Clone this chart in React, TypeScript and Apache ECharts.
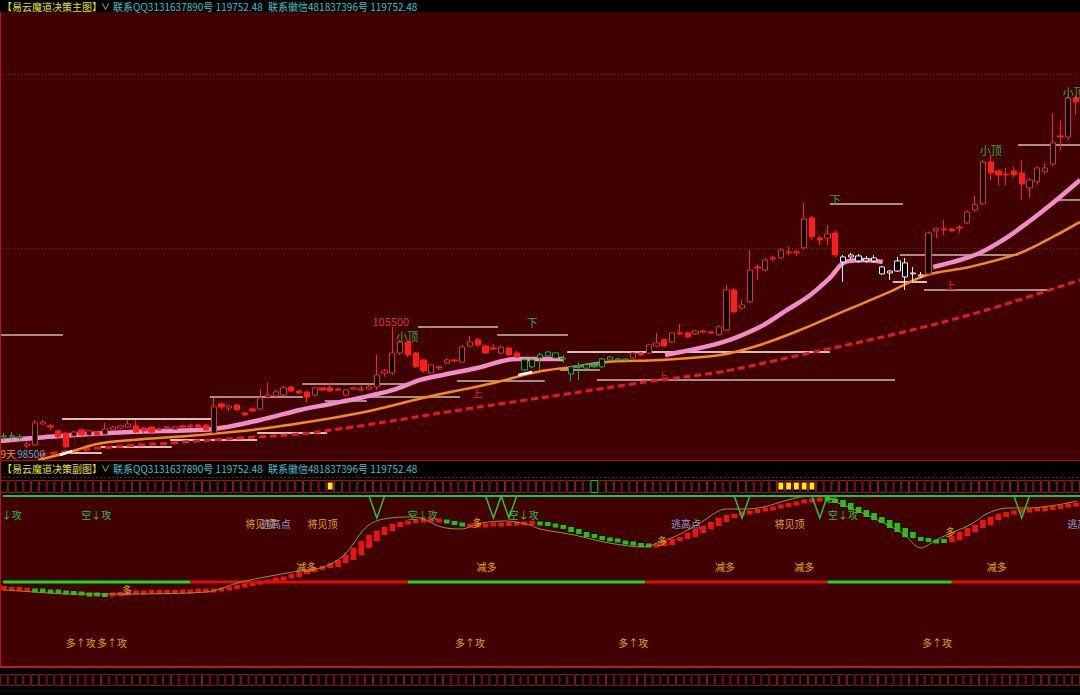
import React, { useEffect, useRef } from "react";
import * as echarts from "echarts";

// ---------------- MAIN PANEL DATA ----------------
// [open, close, low, high]
const candles: number[][] = [
  [99490, 99540, 99280, 99690], [99540, 99490, 99280, 99740], [99430, 99490, 99230, 99640], [99020, 99120, 98920, 99230],
  [99070, 100210, 99020, 100370], [100160, 100260, 100110, 100370], [100060, 100000, 99850, 100160], [99800, 99490, 99430, 99850],
  [99690, 98970, 98920, 99740], [99540, 99740, 99490, 99800], [99850, 99590, 99540, 99900], [99590, 99800, 99540, 99850],
  [99740, 99590, 99540, 99800], [99640, 99900, 99590, 100210], [99850, 100000, 99800, 100060], [99950, 100060, 99900, 100110],
  [100000, 100160, 99950, 100370], [100060, 99740, 99690, 100370], [99950, 99800, 99690, 100000], [100000, 99740, 99690, 100060],
  [99900, 99850, 99800, 99950], [99950, 100000, 99850, 100060], [99880, 100000, 99850, 100060], [100060, 100000, 99950, 100110],
  [100060, 100000, 99950, 100160], [100110, 100000, 99950, 100160], [100110, 99850, 99800, 100160], [99690, 101040, 99640, 101510],
  [101200, 101040, 100890, 101250], [100990, 101090, 100830, 101140], [101140, 100890, 100830, 101200], [100730, 100630, 100570, 100780],
  [100940, 100830, 100780, 100990], [100940, 101510, 100890, 101970], [101560, 101660, 101510, 102290], [101610, 101820, 101560, 101920],
  [101660, 102030, 101610, 102130], [102080, 101870, 101820, 102130], [101870, 101770, 101720, 101920], [101820, 101560, 101250, 101870],
  [101660, 102030, 101610, 102080], [102030, 101920, 101870, 102080], [102030, 101870, 101820, 102290], [101970, 101920, 101870, 102030],
  [101660, 101920, 101610, 101970], [101970, 102030, 101920, 102080], [101970, 101950, 101870, 102130], [101970, 102080, 101920, 102180],
  [102080, 102700, 101920, 103740], [102800, 102910, 102600, 103010], [102800, 103840, 102700, 105190], [103840, 104410, 103740, 104520],
  [104410, 103740, 103630, 104520], [103840, 103120, 103060, 103890], [103480, 102910, 102800, 103530], [102800, 103220, 102750, 103270],
  [103120, 103060, 102960, 103170], [103320, 103480, 103270, 103580], [103480, 103430, 103370, 103530], [103370, 104150, 103320, 104260],
  [104200, 104410, 104150, 104720], [104520, 104260, 104150, 104620], [104200, 103840, 103790, 104260], [104100, 104050, 104000, 104310],
  [103840, 104150, 103790, 104200], [104100, 103740, 103690, 104150], [103840, 103630, 103580, 103940], [103480, 102960, 102910, 103580],
  [103120, 103480, 103060, 103580], [103740, 103580, 102960, 103840], [103690, 103890, 103580, 103940], [103840, 103580, 103530, 103890],
  [103580, 103530, 103320, 103740], [102750, 103120, 102390, 103170], [103170, 103120, 102440, 103370], [103220, 103060, 103010, 103320],
  [103170, 103120, 103060, 103270], [103120, 103530, 103060, 103580], [103630, 103480, 103430, 103690], [103530, 103480, 103430, 103580],
  [103530, 103480, 103430, 103580], [103580, 103840, 103530, 103890], [103840, 103740, 103690, 103890], [103840, 104260, 103790, 104310],
  [104200, 104360, 104150, 104880], [104520, 104200, 104150, 104570], [104410, 104880, 104360, 104930], [104880, 104830, 104780, 105340],
  [104880, 104670, 104620, 104930], [104830, 104980, 104780, 105030], [104980, 104930, 104880, 105030], [104930, 104880, 104830, 104980],
  [104780, 105190, 104720, 105240], [105030, 107110, 104980, 107370], [107110, 105970, 105920, 107210], [106170, 106330, 106070, 106590],
  [106490, 108140, 106430, 109180], [108300, 108250, 107630, 108400], [108140, 108660, 108040, 108770], [108770, 108720, 108610, 108870],
  [108770, 109180, 108720, 109290], [109080, 109030, 108920, 109340], [109080, 109030, 108870, 109180], [109290, 110790, 109180, 111620],
  [110840, 109860, 109700, 110940], [109800, 109700, 109440, 109910], [109800, 110010, 109440, 110480], [110060, 108920, 108820, 110170],
  [108820, 108560, 107520, 108920], [108920, 108820, 108660, 109030], [108870, 108610, 108510, 108970], [108720, 108610, 108510, 108870],
  [108770, 108610, 108510, 108920], [108300, 107940, 107890, 108350], [108090, 107990, 107630, 108140], [108090, 108610, 108040, 108820],
  [108510, 107780, 107110, 108770], [107990, 107940, 107470, 108300], [107890, 107830, 107730, 108040], [107940, 110060, 107890, 110120],
  [110170, 110270, 109800, 110320], [110270, 110220, 109960, 110740], [110270, 110170, 110120, 110320], [110370, 110320, 110060, 110480],
  [110580, 111150, 110530, 111260], [111260, 111520, 111150, 111980], [111570, 113740, 111520, 113850], [113740, 113170, 112810, 114110],
  [113280, 113070, 112550, 113330], [113120, 113070, 112550, 113430], [113280, 113070, 112970, 113490], [113170, 112600, 111770, 113850],
  [112400, 112810, 111880, 112920], [112710, 113430, 112550, 113490], [113230, 113430, 113120, 113690], [113640, 114730, 113540, 116290],
  [115090, 115040, 114370, 115920], [115040, 117060, 114890, 117220], [117060, 116860, 116180, 117170],
];
const N = candles.length;
const categories = candles.map((_, i) => String(i));

// index ranges where candles are tinted (g = green, w = white)
const tintZones: [number, number, string][] = [[0, 2, "g"], [67, 80, "g"], [108, 118, "w"]];

// moving-average style lines: [index, price]
const pinkSegA = [[-0.5, 99278], [7.2, 99537], [16.2, 99744], [26.9, 99900], [33.0, 100367], [38.1, 100886], [42.0, 101196], [45.8, 101508], [50.1, 101922], [53.6, 102441], [56.5, 102700], [60.9, 103063], [66.0, 103529], [72.0, 103529]];
const pinkSegB = [[85.1, 103737], [92.2, 104359], [97.3, 105189], [100.8, 106070], [103.8, 106848], [106.3, 107730], [108.3, 108559], [110.8, 108663], [113.1, 108559]];
const pinkSegC = [[119.6, 108300], [122.2, 108559], [125.6, 109026], [128.6, 109700], [131.7, 110582], [135.0, 111618], [138.5, 112811]];
const orangeLine = [[4.4, 98293], [8.5, 98708], [12.0, 99122], [16.6, 99330], [25.2, 99589], [33.9, 99952], [45.8, 100730], [54.5, 101559], [63.0, 102285], [68.6, 102855], [73.2, 103115], [77.6, 103374], [84.4, 103478], [92.2, 103737], [97.3, 104256], [102.5, 105034], [108.5, 106070], [113.7, 106951], [118.8, 107885], [124.3, 108300], [130.8, 109026], [135.0, 109856], [138.5, 110633]];
const orangeWhiteA = [[7.2, 98552], [8.8, 98760]];
const orangeWhiteB = [[66.2, 102700], [68.0, 102855]];
const orangeTeal = [[73.3, 103115], [76.7, 103270]];
const redDashLine = [[4.6, 98552], [12.4, 98915], [21.4, 99174], [30.4, 99433], [38.1, 99641], [45.8, 100056], [58.7, 100886], [71.6, 101663], [84.4, 102441], [92.2, 102855], [102.5, 103737], [115.3, 104879], [126.5, 106070], [138.5, 107626]];

// horizontal levels: [fromIndex, toIndex, price, kind(0 gray / 1 light)]
const levelLines = [
  [-0.5, 7.6, 104775, 0], [7.5, 26.8, 100420, 1], [8.5, 12.6, 98656, 1], [12.4, 21.6, 98967, 1],
  [21.4, 32.6, 99330, 1], [32.6, 41.6, 99693, 1], [26.5, 38.5, 101559, 0], [38.4, 52.3, 102234, 0],
  [41.3, 46.7, 101352, 0], [45.8, 58.7, 101559, 0], [53.3, 63.6, 105189, 0], [63.5, 72.6, 104775, 0],
  [58.3, 69.6, 102389, 0], [72.5, 106.3, 103893, 1], [71.6, 76.7, 102960, 0], [76.3, 114.7, 102441, 0],
  [106.3, 115.7, 111567, 0], [115.3, 130.5, 108922, 0], [118.4, 134.6, 107107, 0], [114.4, 118.8, 107522, 1],
  [130.5, 138.5, 114626, 0], [135.5, 138.5, 111774, 0],
];

// main annotations: [text, index, price, color, fontSize]
const mainLabels: [string, number, number, string, number][] = [
  ["105500", 49.8, 105500, "#c83a3a", 11],
  ["小顶", 51.9, 104723, "#3caa28", 11],
  ["下", 68.0, 105448, "#3caa28", 11],
  ["下", 107.0, 111826, "#3caa28", 11],
  ["小顶", 127.0, 114369, "#3caa28", 11],
  ["小顶", 137.7, 117374, "#3caa28", 11],
  ["上", 60.9, 101767, "#d82020", 11],
  ["上", 84.8, 102648, "#d82020", 11],
  ["上", 121.8, 107367, "#d82020", 11],
  ["9天", 0.55, 98640, "#d8a000", 10],
  ["98500", 3.5, 98640, "#3ab0d0", 10],
];

// ---------------- SUB PANEL DATA ----------------
const subX = [
  79, 77, 77, 77, 76, 76, 75, 75, 74, 73,
  73, 72, 72, 72, 73, 74, 74, 75, 75, 75,
  75, 75, 75, 76, 76, 76, 77, 77, 78, 80,
  82, 83, 84, 86, 87, 89, 90, 93, 95, 98,
  99, 100, 104, 107, 112, 119, 126, 132, 136, 140,
  143, 145, 146, 147, 147, 147, 146, 144, 142, 141,
  141, 142, 142, 143, 143, 143, 144, 144, 144, 143,
  142, 140, 138, 135, 133, 130, 129, 128, 126, 125,
  123, 122, 121, 121, 122, 126, 128, 130, 134, 138,
  141, 145, 149, 152, 153, 155, 156, 157, 159, 160,
  162, 164, 165, 167, 168, 168, 167, 164, 160, 157,
  154, 150, 147, 144, 139, 135, 130, 129, 126, 125,
  125, 127, 131, 135, 139, 142, 147, 150, 153, 155,
  156, 157, 157, 158, 159, 160, 161, 163, 164,
];
// colour runs of the sub bars: [from, to, r/g]
const subColorRuns: [number, number, string][] = [[0, 3, "r"], [4, 13, "g"], [14, 56, "r"], [57, 59, "g"], [60, 68, "r"], [69, 83, "g"], [84, 105, "r"], [106, 121, "g"], [122, 138, "r"]];
const oliveLine = [[-0.1, 77], [3.9, 75], [8.4, 73], [14.2, 73], [26.1, 75], [30.5, 85], [37.2, 95], [41.2, 100], [43.8, 112], [46.5, 139], [48.3, 147], [51.8, 150], [53.6, 149], [56.3, 140], [58.8, 138], [61.5, 144], [64.6, 146], [67.7, 142], [69.0, 138], [73.4, 132], [77.9, 124], [82.3, 120], [84.1, 124], [86.8, 132], [89.8, 145], [92.9, 158], [95.6, 158], [97.8, 160], [100.9, 167], [103.6, 171], [105.8, 170], [107.1, 165], [111.1, 152], [115.6, 134], [118.0, 119], [120.0, 127], [121.3, 132], [124.3, 142], [126.7, 154], [129.2, 159], [131.9, 159], [135.5, 162], [138.1, 166]];
const trendLevel = 85;
const trendSegments: [number, number, string][] = [[-0.1, 24, "g"], [24, 52, "r"], [52, 82.5, "g"], [82.5, 106, "r"], [106, 122, "g"], [122, 138.5, "r"]];
const vMarks = [48, 63, 65, 95, 105, 131];
const vTop = 171;
const vTip = 149;
// [text, index, value, colorKey]
const subLabels: [string, number, number, string][] = [
  ["↓攻", 1.0, 153, "g"], ["空↓攻", 11.9, 153, "g"], ["将见顶", 33.0, 144, "y"], ["逃高点", 35.0, 144, "b"],
  ["将见顶", 41.0, 144, "y"], ["空↓攻", 53.9, 153, "g"], ["多", 60.9, 145, "y"], ["空↓攻", 66.9, 153, "g"],
  ["减多", 38.9, 101, "y"], ["减多", 62.1, 101, "y"], ["减多", 92.8, 101, "y"], ["减多", 103.0, 101, "y"],
  ["减多", 127.8, 101, "y"], ["多", 15.8, 78, "y"], ["逃高点", 87.8, 144, "b"], ["多", 84.7, 127, "y"],
  ["将见顶", 101.1, 144, "y"], ["空↓攻", 108.0, 153, "g"], ["空", 106.6, 170, "g"], ["多", 121.8, 136, "y"],
  ["逃高点", 138.8, 144, "b"],
  ["多↑攻", 9.9, 25, "y"], ["多↑攻", 13.9, 25, "y"], ["多↑攻", 60.0, 25, "y"], ["多↑攻", 81.0, 25, "y"], ["多↑攻", 120.1, 25, "y"],
];
const stripYellow = [42, 100, 101, 102, 103, 104];
const stripGreen = [76];

// ---------------- STYLE ----------------
const BG = "#410000";
const FONT = '"Noto Sans CJK SC", "Liberation Sans", sans-serif';
const LABEL_COLORS: Record<string, string> = { g: "#30c030", y: "#e0a800", b: "#8aa0dc" };

function tintOf(i: number) {
  for (const [a, b, t] of tintZones) if (i >= a && i <= b) return t;
  return "";
}
function subColorOf(i: number) {
  for (const [a, b, t] of subColorRuns) if (i >= a && i <= b) return t;
  return "r";
}

function headerTexts(y: number, title: string) {
  const base = { font: `10px ${FONT}`, verticalAlign: "middle", align: "left" };
  return [
    { type: "text", x: 2, y, z: 20, style: { ...base, text: title, fill: "#e8e020" } },
    { type: "text", x: 101, y, z: 20, style: { ...base, font: `9px ${FONT}`, text: "∨", fill: "#d0d0b0" } },
    { type: "text", x: 113, y, z: 20, style: { ...base, text: "联系QQ3131637890号 119752.48", fill: "#3cc4c8" } },
    { type: "text", x: 268, y, z: 20, style: { ...base, text: "联系徽信481837396号 119752.48", fill: "#3cc4c8" } },
  ];
}

function buildOption(): any {
  const candleData = candles.map((c, i) => {
    const t = tintOf(i);
    if (t === "g") return { value: c, itemStyle: { color: "#000000", borderColor: "#22b022", color0: "#22aa22", borderColor0: "#22aa22" } };
    if (t === "w") return { value: c, itemStyle: { color: "#000000", borderColor: "#f0f0f0", color0: "#ffffff", borderColor0: "#ffffff" } };
    return c;
  });

  const lineS = (data: number[][], color: string, width: number, z: number, extra: any = {}) => ({
    type: "line", xAxisIndex: 1, yAxisIndex: 0, data, showSymbol: false, symbol: "none", smooth: 0.35,
    lineStyle: { color, width, ...extra }, z, silent: true,
  });

  const hidden = { show: false, splitLine: { show: false } };

  return {
    animation: false,
    backgroundColor: BG,
    grid: [
      { left: 0, right: 0, top: 12, height: 448 },
      { left: 0, right: 0, top: 495, height: 172 },
      { left: 0, right: 0, top: 480, height: 13 },
      { left: 0, right: 0, top: 674, height: 12 },
    ],
    xAxis: [
      { type: "category", gridIndex: 0, data: categories, boundaryGap: true, ...hidden },
      { type: "value", gridIndex: 0, min: -0.5, max: N - 0.5, ...hidden },
      { type: "value", gridIndex: 1, min: -0.5, max: N - 0.5, ...hidden },
      { type: "value", gridIndex: 2, min: -0.5, max: N - 0.5, ...hidden },
      { type: "value", gridIndex: 3, min: -0.5, max: N - 0.5, ...hidden },
    ],
    yAxis: [
      { type: "value", gridIndex: 0, min: 98290, max: 121520, ...hidden },
      { type: "value", gridIndex: 1, min: 0, max: 172, ...hidden },
      { type: "value", gridIndex: 2, min: 0, max: 1, ...hidden },
      { type: "value", gridIndex: 3, min: 0, max: 1, ...hidden },
    ],
    graphic: [
      { type: "rect", z: -1, shape: { x: 0, y: 0, width: 1080, height: 12 }, style: { fill: "#000000" } },
      { type: "rect", z: -1, shape: { x: 0, y: 461, width: 1080, height: 34 }, style: { fill: "#000000" } },
      { type: "rect", z: -1, shape: { x: 0, y: 668, width: 1080, height: 27 }, style: { fill: "#000000" } },
      { type: "line", z: 1, shape: { x1: 0, y1: 74.5, x2: 1080, y2: 74.5 }, style: { stroke: "#8a1414", lineWidth: 1, lineDash: [1, 2] } },
      { type: "line", z: 1, shape: { x1: 0, y1: 248.5, x2: 1080, y2: 248.5 }, style: { stroke: "#8a1414", lineWidth: 1, lineDash: [1, 2] } },
      { type: "line", z: 10, shape: { x1: 0.5, y1: 12, x2: 0.5, y2: 668 }, style: { stroke: "#c01010", lineWidth: 1 } },
      { type: "line", z: 10, shape: { x1: 0, y1: 460.5, x2: 1080, y2: 460.5 }, style: { stroke: "#b01010", lineWidth: 1 } },
      { type: "line", z: 10, shape: { x1: 0, y1: 477.5, x2: 1080, y2: 477.5 }, style: { stroke: "#801010", lineWidth: 1, lineDash: [2, 2] } },
      { type: "line", z: 10, shape: { x1: 3, y1: 496, x2: 1080, y2: 496 }, style: { stroke: "#12d012", lineWidth: 2 } },
      { type: "line", z: 10, shape: { x1: 0, y1: 667, x2: 1080, y2: 667 }, style: { stroke: "#c01818", lineWidth: 2 } },
      { type: "line", z: 10, shape: { x1: 0, y1: 690.5, x2: 1080, y2: 690.5 }, style: { stroke: "#3a0808", lineWidth: 1, lineDash: [1, 1] } },
      ...headerTexts(6, "【易云魔道决策主图】"),
      ...headerTexts(468, "【易云魔道决策副图】"),
    ],
    series: [
      // level lines
      {
        type: "custom", xAxisIndex: 1, yAxisIndex: 0, clip: true, z: 2, silent: true,
        data: levelLines.map((d) => [d[0], d[1], d[2]]),
        encode: { x: [0, 1], y: 2 },
        renderItem: (params: any, api: any) => {
          const d = levelLines[params.dataIndex];
          const a = api.coord([d[0], d[2]]);
          const b = api.coord([d[1], d[2]]);
          return { type: "line", shape: { x1: a[0], y1: a[1], x2: b[0], y2: b[1] }, style: { stroke: d[3] ? "#f2dede" : "#b8a4a4", lineWidth: 2, opacity: 0.85 } };
        },
      },
      lineS(redDashLine, "#e61a1a", 3, 3, { type: [7, 4] }),
      lineS(orangeLine, "#f28a1c", 2.5, 4),
      lineS(orangeWhiteA, "#ffffff", 2.5, 4),
      lineS(orangeWhiteB, "#ffffff", 2.5, 4),
      lineS(orangeTeal, "#2fa0a0", 2.5, 4),
      lineS(pinkSegA, "#f08cc8", 4.5, 4),
      lineS(pinkSegB, "#f08cc8", 4.5, 4),
      lineS(pinkSegC, "#f08cc8", 4.5, 4),
      {
        type: "candlestick", xAxisIndex: 0, yAxisIndex: 0, data: candleData, barWidth: "74%", z: 5, silent: true,
        itemStyle: { color: "#000000", color0: "#ff1c1c", borderColor: "#f02a2a", borderColor0: "#ff1c1c", borderWidth: 1 },
      },
      // main labels
      {
        type: "custom", xAxisIndex: 1, yAxisIndex: 0, clip: true, z: 6, silent: true,
        data: mainLabels.map((d) => [d[1], d[2]]),
        encode: { x: 0, y: 1 },
        renderItem: (params: any, api: any) => {
          const d = mainLabels[params.dataIndex];
          const p = api.coord([d[1], d[2]]);
          return { type: "text", x: p[0], y: p[1], style: { text: d[0], fill: d[3], font: `${d[4]}px ${FONT}`, align: "center", verticalAlign: "middle" } };
        },
      },
      // sub bars
      {
        type: "custom", xAxisIndex: 2, yAxisIndex: 1, clip: true, z: 3, silent: true,
        data: subX.map((v, i) => [i, v]),
        encode: { x: 0, y: 1 },
        renderItem: (params: any, api: any) => {
          const i = params.dataIndex;
          const cur = subX[i];
          const prev = subX[Math.max(0, i - 2)];
          const top = api.coord([i, Math.max(cur, prev)]);
          const bot = api.coord([i, Math.min(cur, prev)]);
          let y1 = top[1];
          let y2 = bot[1];
          if (y2 - y1 < 4) { const m = (y1 + y2) / 2; y1 = m - 2; y2 = m + 2; }
          const w = api.size([1, 0])[0] * 0.72;
          return { type: "rect", shape: { x: top[0] - w / 2, y: y1, width: w, height: y2 - y1 }, style: { fill: subColorOf(i) === "r" ? "#f01212" : "#14c814" } };
        },
      },
      // trend line
      {
        type: "custom", xAxisIndex: 2, yAxisIndex: 1, clip: true, z: 3, silent: true,
        data: trendSegments.map((d) => [d[0], d[1]]),
        encode: { x: [0, 1] },
        renderItem: (params: any, api: any) => {
          const d = trendSegments[params.dataIndex];
          const a = api.coord([d[0], trendLevel]);
          const b = api.coord([d[1], trendLevel]);
          return { type: "line", shape: { x1: a[0], y1: a[1], x2: b[0], y2: b[1] }, style: { stroke: d[2] === "g" ? "#18dc18" : "#e00a0a", lineWidth: 3 } };
        },
      },
      {
        type: "line", xAxisIndex: 2, yAxisIndex: 1, data: oliveLine, showSymbol: false, symbol: "none", smooth: 0.3,
        lineStyle: { color: "#86a01c", width: 1 }, z: 4, silent: true,
      },
      // V marks
      {
        type: "custom", xAxisIndex: 2, yAxisIndex: 1, clip: false, z: 11, silent: true,
        data: vMarks.map((i) => [i, vTip]),
        encode: { x: 0, y: 1 },
        renderItem: (params: any, api: any) => {
          const i = vMarks[params.dataIndex];
          const pts = [api.coord([i - 1, vTop]), api.coord([i, vTip]), api.coord([i + 1, vTop])];
          return { type: "polyline", shape: { points: pts }, style: { stroke: "#24c824", lineWidth: 1.5, fill: "none" } };
        },
      },
      // sub labels
      {
        type: "custom", xAxisIndex: 2, yAxisIndex: 1, clip: true, z: 12, silent: true,
        data: subLabels.map((d) => [d[1], d[2]]),
        encode: { x: 0, y: 1 },
        renderItem: (params: any, api: any) => {
          const d = subLabels[params.dataIndex];
          const p = api.coord([d[1], d[2]]);
          return { type: "text", x: p[0], y: p[1], style: { text: d[0], fill: LABEL_COLORS[d[3]], font: `10px ${FONT}`, align: "center", verticalAlign: "middle" } };
        },
      },
      // strip boxes
      {
        type: "custom", xAxisIndex: 3, yAxisIndex: 2, clip: false, z: 5, silent: true,
        data: categories.map((_, i) => [i, 0.5]),
        encode: { x: 0, y: 1 },
        renderItem: (params: any, api: any) => {
          const i = params.dataIndex;
          const a = api.coord([i - 0.5, 1]);
          const b = api.coord([i + 0.5, 0]);
          const x = a[0] + 0.5, y = a[1] + 0.5, w = b[0] - a[0] - 1, h = b[1] - a[1] - 1;
          const green = stripGreen.indexOf(i) >= 0;
          const yellow = stripYellow.indexOf(i) >= 0;
          const children: any[] = [{ type: "rect", shape: { x, y, width: w, height: h }, style: { fill: "#000000", stroke: green ? "#20c020" : "#a01414", lineWidth: 1 } }];
          if (yellow) children.push({ type: "rect", shape: { x: x + 1, y: y + 2, width: w - 2, height: h - 5 }, style: { fill: "#ffee00" } });
          return { type: "group", children };
        },
      },
      // bottom tick boxes
      {
        type: "custom", xAxisIndex: 4, yAxisIndex: 3, clip: false, z: 5, silent: true,
        data: categories.map((_, i) => [i, 0.5]),
        encode: { x: 0, y: 1 },
        renderItem: (params: any, api: any) => {
          const i = params.dataIndex;
          const a = api.coord([i - 0.5, 1]);
          const b = api.coord([i + 0.5, 0]);
          return { type: "rect", shape: { x: a[0] + 0.5, y: a[1] + 0.5, width: b[0] - a[0] - 1, height: b[1] - a[1] - 1 }, style: { fill: "#000000", stroke: "#8c1212", lineWidth: 1 } };
        },
      },
    ],
  };
}

export default function App() {
  const ref = useRef<HTMLDivElement>(null);
  useEffect(() => {
    if (!ref.current) return;
    const chart = echarts.init(ref.current, null, { renderer: "svg" });
    chart.setOption(buildOption());
    return () => chart.dispose();
  }, []);
  return <div ref={ref} style={{ position: "fixed", left: 0, top: 0, width: 1080, height: 695 }} />;
}
